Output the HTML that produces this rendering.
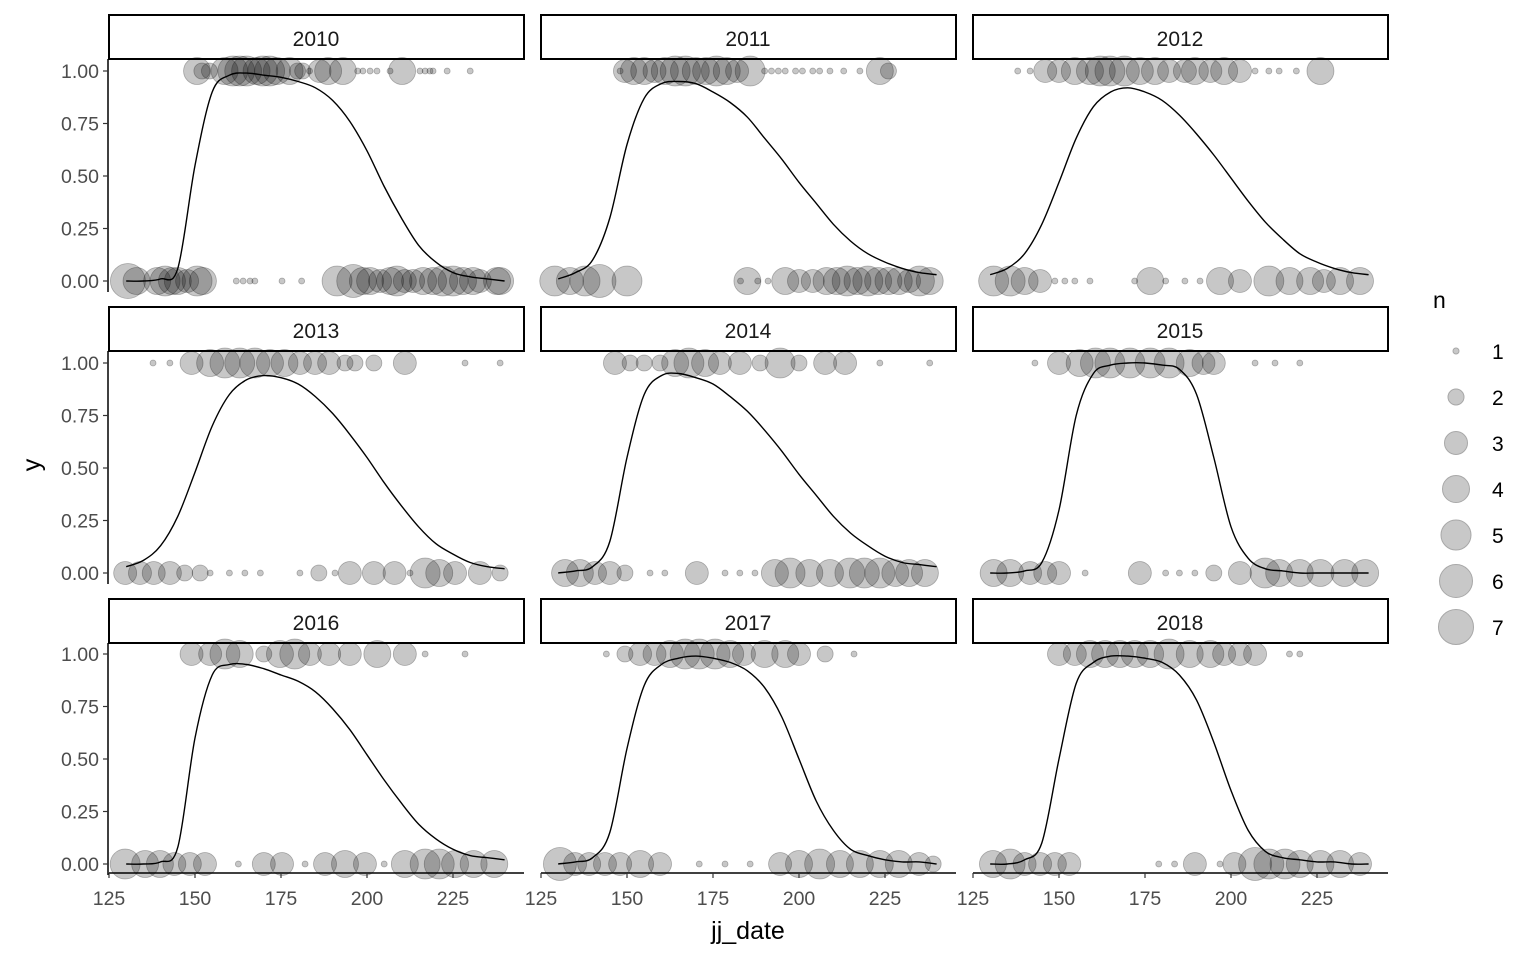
<!DOCTYPE html>
<html><head><meta charset="utf-8"><style>
body{margin:0;background:#fff;}
svg text{font-family:"Liberation Sans",sans-serif;}
</style></head><body>
<svg id="chart" width="1536" height="960" viewBox="0 0 1536 960" xmlns="http://www.w3.org/2000/svg"></svg>
<script>
const years = [2010,2011,2012,2013,2014,2015,2016,2017,2018];
const curveDates = [130,135,140,145,150,155,160,165,170,175,180,185,190,195,200,205,210,215,220,225,230,235,240];
const curve2010 = [0,0,0.01,0.06,0.55,0.9,0.98,0.99,0.98,0.97,0.95,0.92,0.86,0.76,0.62,0.45,0.3,0.17,0.09,0.04,0.02,0.01,0];
const curve2011 = [0.01,0.04,0.1,0.3,0.65,0.87,0.94,0.95,0.94,0.9,0.85,0.78,0.68,0.58,0.47,0.37,0.27,0.19,0.13,0.09,0.06,0.04,0.03];
const curve2012 = [0.03,0.06,0.13,0.27,0.47,0.68,0.83,0.9,0.92,0.9,0.86,0.79,0.7,0.6,0.49,0.38,0.28,0.2,0.13,0.09,0.06,0.04,0.03];
const curve2013 = [0.03,0.06,0.13,0.27,0.48,0.7,0.85,0.92,0.94,0.93,0.9,0.84,0.76,0.66,0.55,0.43,0.32,0.22,0.14,0.09,0.05,0.03,0.02];
const curve2014 = [0,0.01,0.03,0.15,0.55,0.85,0.94,0.95,0.93,0.9,0.84,0.77,0.68,0.58,0.47,0.37,0.27,0.19,0.13,0.08,0.05,0.04,0.03];
const curve2015 = [0,0,0.01,0.05,0.3,0.75,0.95,0.99,1,1,0.99,0.97,0.85,0.55,0.22,0.07,0.02,0.01,0,0,0,0,0];
const curve2016 = [0,0,0.01,0.08,0.6,0.9,0.95,0.95,0.93,0.9,0.87,0.82,0.74,0.64,0.52,0.4,0.29,0.19,0.12,0.07,0.04,0.03,0.02];
const curve2017 = [0,0.01,0.03,0.15,0.55,0.85,0.95,0.98,0.99,0.98,0.96,0.92,0.84,0.7,0.5,0.3,0.16,0.07,0.04,0.02,0.01,0.01,0];
const curve2018 = [0,0,0.02,0.1,0.5,0.86,0.96,0.99,0.99,0.98,0.96,0.9,0.78,0.58,0.35,0.16,0.06,0.03,0.02,0.01,0.01,0,0];
const curves = [curve2010,curve2011,curve2012,curve2013,curve2014,curve2015,curve2016,curve2017,curve2018];

const top2010 = [[150.6,4],[152,2],[154.2,2],[158.6,4],[161,5],[163,5],[165,5],[167.9,4],[169.7,5],[171.7,5],[173.8,4],[177.5,4],[179.8,2],[181.3,2],[183.3,1],[186.2,3],[188.7,4],[193,4],[197.3,1],[198.8,1],[200.9,1],[202.9,1],[206.7,1],[210.2,4],[215.4,1],[216.9,1],[218.3,1],[219.2,1],[223.3,1],[230,1]];
const bot2010 = [[130.5,7],[133,4],[139,4],[141.3,5],[143.3,4],[145,4],[147.7,3],[150.6,5],[152.3,4],[162,1],[164,1],[166,1],[167.4,1],[175.3,1],[181,1],[191.3,5],[196,6],[198.8,4],[200.9,4],[203.8,3],[206.7,4],[208.7,5],[211,3],[213.4,3],[216.3,4],[219.2,4],[222,5],[225,5],[227.9,4],[230.8,4],[232.8,3],[237.8,4],[238.7,4]];
const top2011 = [[148,1],[149.4,3],[152,4],[155,4],[158,3],[161,4],[164,5],[167,5],[170,4],[173,4],[176,5],[179,4],[182,3],[185.8,5],[190,1],[192,1],[194,1],[196,1],[199,1],[201,1],[204,1],[206,1],[209,1],[213,1],[217.7,1],[223.5,4],[226,2]];
const bot2011 = [[129,5],[133.4,4],[137.8,5],[142,6],[150,5],[183,1],[185,4],[188,1],[191,1],[196,4],[200,3],[204,3],[208,4],[211,4],[214,5],[217,4],[220,5],[223,4],[226,4],[229,4],[232,3],[235,5],[238,4]];
const top2012 = [[138,1],[141.6,1],[146,3],[150,3],[154.6,4],[159,4],[162,5],[164.8,5],[169,5],[173.5,4],[177.9,4],[182,3],[186.6,3],[189.5,4],[194,3],[198,4],[202.6,3],[207,1],[211,1],[214,1],[219,1],[226,4]];
const bot2012 = [[131,5],[135.8,5],[140,4],[144.5,3],[148.8,1],[151.7,1],[154.6,1],[159,1],[172,1],[176.5,4],[181,1],[186.6,1],[191,1],[196.8,4],[202.6,3],[211,5],[217,4],[223,4],[227,3],[231.7,4],[237.5,4]];
const top2013 = [[137.8,1],[142.7,1],[149,3],[154.4,4],[158.7,5],[163,5],[167.4,5],[171.8,4],[176,4],[180.5,3],[184.9,3],[189,3],[193.6,2],[196.5,2],[202,2],[211,3],[228.5,1],[238.7,1]];
const bot2013 = [[129.7,3],[134,3],[138,3],[142.7,3],[147,2],[151.5,2],[154.4,1],[160,1],[164.5,1],[169,1],[180.5,1],[186,2],[190.7,1],[195,3],[202,3],[208,3],[212.5,1],[216.9,5],[221,4],[225.6,3],[232.8,3],[238.7,2]];
const top2014 = [[146.5,3],[150.9,2],[155,2],[159.6,2],[164,4],[168,5],[172.7,4],[177,3],[182.8,3],[188.7,2],[194.5,5],[200,2],[207.6,3],[213.4,3],[223.5,1],[238,1]];
const bot2014 = [[132,4],[136.3,4],[140.7,3],[145,3],[149.4,2],[156.7,1],[161,1],[170.3,3],[178.5,1],[182.8,1],[187.2,1],[193,4],[197.4,5],[203,4],[209,4],[214.8,5],[219,5],[223.5,5],[228,4],[232,4],[236.6,4]];
const top2015 = [[143,1],[150,3],[156,4],[160.6,5],[164.8,5],[170.6,5],[176.5,5],[182,5],[188,4],[192,3],[195,3],[207,1],[212.8,1],[220,1]];
const bot2015 = [[131,4],[135.8,4],[141.6,3],[146,3],[150,3],[157.6,1],[173.5,3],[181,1],[185,1],[189.5,1],[195,2],[202.6,3],[209.9,5],[214,4],[220,4],[226,4],[233,4],[239,4]];
const top2016 = [[149,3],[154.4,3],[158.7,5],[163,4],[170,2],[174.7,4],[179,5],[183.4,3],[189,3],[195,3],[203,4],[211,3],[216.9,1],[228.5,1]];
const bot2016 = [[129.7,5],[135.5,4],[139.8,4],[144,3],[148.5,3],[152.9,3],[162.6,1],[170,3],[175.3,3],[182,1],[187.8,3],[193.6,4],[199.4,3],[205,1],[211,4],[216.9,5],[221,5],[225.6,4],[231,4],[237,4]];
const top2017 = [[144,1],[149.4,2],[153.8,3],[158,3],[162.5,4],[166.9,5],[171,5],[175.6,5],[180,4],[184,3],[190,4],[196,4],[200,3],[207.6,2],[216,1]];
const bot2017 = [[130.5,6],[134.9,3],[139,3],[143.6,3],[148,3],[153.8,4],[159.6,3],[171,1],[178.5,1],[185.8,1],[194.5,3],[200,4],[206,5],[211.9,4],[217.7,4],[223.5,4],[229,4],[234.9,3],[239,2]];
const top2018 = [[150,3],[154.6,3],[159,4],[163.4,4],[167.7,4],[172,4],[176.5,4],[182,5],[188,4],[194,4],[198,3],[202.6,3],[207,3],[217,1],[220,1]];
const bot2018 = [[130.8,4],[135.8,5],[140,3],[144.5,3],[148.8,3],[153,3],[179,1],[183.6,1],[189.5,3],[196.8,1],[201,3],[207,6],[211,5],[215.7,5],[220,4],[226,4],[231.7,4],[237.5,3]];
const tops = [top2010,top2011,top2012,top2013,top2014,top2015,top2016,top2017,top2018];
const bots = [bot2010,bot2011,bot2012,bot2013,bot2014,bot2015,bot2016,bot2017,bot2018];

const xTicks = [125,150,175,200,225];
const yTicks = [0,0.25,0.5,0.75,1];
const yTickLabels = ["0.00","0.25","0.50","0.75","1.00"];
const legendN = [1,2,3,4,5,6,7];

const NS = "http://www.w3.org/2000/svg";
const svg = document.getElementById('chart');
function mk(tag, attrs, parent){const e=document.createElementNS(NS,tag);for(const k in attrs)e.setAttribute(k,attrs[k]);(parent||svg).appendChild(e);return e;}
const colX = [109,541,973], rowY0 = [281,573,864];
function xs(c,d){return colX[c]+(d-125)*3.44;}
function ys(r,v){return rowY0[r]-v*210;}
function rad(n){return [0,3,8,11.5,13.5,15,16.5,17.5][n]||(2+n*2.3);}
function smoothPath(p){
  let d='M'+p[0][0].toFixed(1)+','+p[0][1].toFixed(1);
  for(let i=0;i<p.length-1;i++){
    const p0=p[Math.max(0,i-1)],p1=p[i],p2=p[i+1],p3=p[Math.min(p.length-1,i+2)];
    const c1x=p1[0]+(p2[0]-p0[0])/6,c1y=p1[1]+(p2[1]-p0[1])/6;
    const c2x=p2[0]-(p3[0]-p1[0])/6,c2y=p2[1]-(p3[1]-p1[1])/6;
    d+=' C'+c1x.toFixed(1)+','+c1y.toFixed(1)+' '+c2x.toFixed(1)+','+c2y.toFixed(1)+' '+p2[0].toFixed(1)+','+p2[1].toFixed(1);
  }
  return d;
}

years.forEach((yr,i)=>{
  const r=Math.floor(i/3), c=i%3;
  const g = mk('g',{});
  
  
  const st = mk('rect',{x:colX[c],y:15+r*292,width:415,height:44,fill:'#fff',stroke:'#000','stroke-width':2},g);
  
  
  const sl = mk('text',{x:colX[c]+207,y:46+r*292,'text-anchor':'middle','font-size':21,fill:'#1a1a1a'},g);
  sl.textContent=yr;
  
  
  [[tops[i],1],[bots[i],0]].forEach(([arr,yv])=>{
    arr.forEach(([d,n])=>{
      const p = mk('circle',{cx:xs(c,d),cy:ys(r,yv),r:rad(n),fill:'#000','fill-opacity':0.22,stroke:'#000','stroke-opacity':0.28,'stroke-width':0.8},g);
      
      
    });
  });
  const pts = curveDates.map((d,k)=>[xs(c,d),ys(r,curves[i][k])]);
  const ln = mk('path',{d:smoothPath(pts),fill:'none',stroke:'#000','stroke-width':1.4,'stroke-linejoin':'round'},g);
  
  
  if(c===0){
    const ax = mk('line',{x1:108,x2:108,y1:59+r*292,y2:rowY0[r]+11,stroke:'#000','stroke-width':1.5},g);
    
    
    yTicks.forEach((t,k)=>{
      mk('line',{x1:103,x2:108,y1:ys(r,t),y2:ys(r,t),stroke:'#333','stroke-width':1.2},g);
      const tl = mk('text',{x:99,y:ys(r,t)+7,'text-anchor':'end','font-size':19.5,fill:'#4d4d4d'},g);
      tl.textContent=yTickLabels[k];
      
      
    });
  }
  if(r===2){
    const ax = mk('line',{x1:colX[c],x2:colX[c]+415,y1:873,y2:873,stroke:'#000','stroke-width':1.5},g);
    
    
    xTicks.forEach(t=>{
      mk('line',{x1:xs(c,t),x2:xs(c,t),y1:873,y2:878,stroke:'#333','stroke-width':1.2},g);
      const tl = mk('text',{x:xs(c,t),y:905,'text-anchor':'middle','font-size':19.5,fill:'#4d4d4d'},g);
      tl.textContent=t;
      
      
    });
  }
});
const xt = mk('text',{x:748,y:939,'text-anchor':'middle','font-size':25,fill:'#000'});
xt.textContent='jj_date';


const yt = mk('text',{x:40,y:465,'text-anchor':'middle','font-size':25,fill:'#000',transform:'rotate(-90 40 465)'});
yt.textContent='y';


const lt = mk('text',{x:1433,y:308,'font-size':23,fill:'#000'});
lt.textContent='n';


legendN.forEach((n,k)=>{
  const cy = 351+k*46;
  const lc = mk('circle',{cx:1456,cy:cy,r:rad(n),fill:'#c8c8c8',stroke:'#a8a8a8','stroke-width':1});
  
  
  const lx = mk('text',{x:1492,y:cy+8,'font-size':21,fill:'#000'});
  lx.textContent=n;
  
  
});
</script>
</body></html>
